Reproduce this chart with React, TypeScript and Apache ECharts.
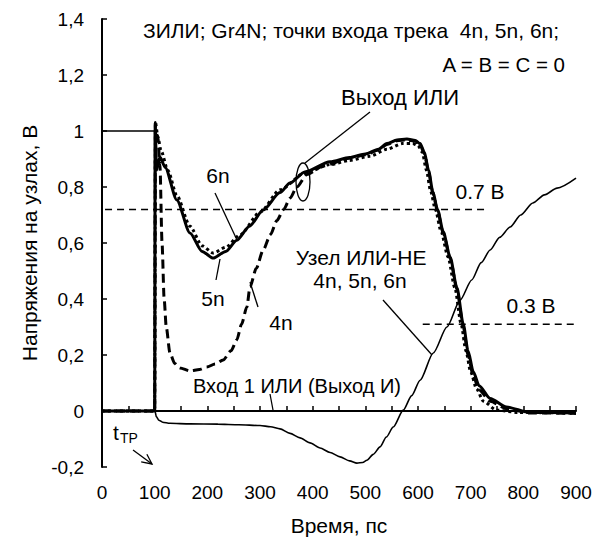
import React, { useEffect, useRef } from "react";
import * as echarts from "echarts";

// ---- Data (time in ps, voltage in V) ----
const norNode: [number, number][] = [
  [0, 1], [100, 1], [100.8, 0.0], [103, -0.02], [108, -0.033], [115, -0.04], [129, -0.044],
  [167, -0.046], [220, -0.047], [260, -0.049], [300, -0.052], [320, -0.056], [338, -0.064],
  [357, -0.08], [376, -0.096], [395, -0.114], [414, -0.132], [433, -0.148], [452, -0.164],
  [470, -0.178], [484, -0.186], [495, -0.184], [503, -0.176], [515, -0.155], [528, -0.128],
  [540, -0.093], [553, -0.057], [572, 0.003], [588, 0.055], [604, 0.11], [629, 0.207],
  [655, 0.3], [680, 0.396], [702, 0.468], [720, 0.53], [737, 0.575], [755, 0.62],
  [775, 0.657], [795, 0.7], [818, 0.743], [840, 0.772], [864, 0.796], [900, 0.832],
];

const out5n: [number, number][] = [
  [0, 0], [100, 0], [101, 1.03], [103.5, 0.86], [110, 0.907], [120, 0.87], [142, 0.754],
  [167, 0.636], [190, 0.57], [211, 0.546], [235, 0.57], [256, 0.61], [280, 0.66],
  [306, 0.718], [338, 0.78], [357, 0.814], [385, 0.854], [433, 0.89], [470, 0.905],
  [500, 0.918], [525, 0.935], [541, 0.955], [560, 0.968], [579, 0.971], [595, 0.966],
  [604, 0.955], [612, 0.925], [620, 0.86], [628, 0.785], [637, 0.72], [648, 0.64],
  [661, 0.55], [674, 0.44], [686, 0.31], [695, 0.215], [705, 0.14], [716, 0.09],
  [737, 0.045], [768, 0.014], [812, -0.005], [900, -0.007],
];

const out6n: [number, number][] = [
  [0, 0], [100, 0], [101.5, 1.03], [106, 0.98], [112, 0.93], [125, 0.86], [142, 0.77],
  [167, 0.66], [190, 0.59], [211, 0.564], [235, 0.585], [262, 0.629], [300, 0.71],
  [338, 0.79], [385, 0.85], [433, 0.88], [470, 0.895], [509, 0.91], [541, 0.935],
  [570, 0.955], [590, 0.955], [600, 0.948], [608, 0.925], [616, 0.86], [624, 0.785],
  [633, 0.72], [644, 0.64], [657, 0.55], [670, 0.44], [682, 0.31], [691, 0.215],
  [700, 0.14], [711, 0.08], [724, 0.035], [749, 0.003], [790, -0.005], [900, -0.008],
];

const out4n: [number, number][] = [
  [0, 0], [100, 0], [101.5, 1.0], [106, 0.98], [110, 0.88], [114, 0.6], [118, 0.4],
  [122, 0.3], [129, 0.207], [138, 0.17], [148, 0.154], [167, 0.143], [185, 0.148],
  [199, 0.157], [215, 0.168], [230, 0.182], [245, 0.215], [256, 0.254], [265, 0.31],
  [275, 0.371], [281, 0.443], [293, 0.51], [306, 0.575], [320, 0.63], [332, 0.68],
  [345, 0.72], [357, 0.76], [370, 0.8], [389, 0.845], [420, 0.875], [470, 0.903],
  [500, 0.915], [525, 0.932], [541, 0.952], [560, 0.965], [579, 0.968], [595, 0.963],
  [604, 0.95], [612, 0.92], [620, 0.855], [628, 0.78], [637, 0.715], [648, 0.635],
  [661, 0.545], [674, 0.435], [686, 0.3], [695, 0.2], [705, 0.125], [716, 0.075],
  [737, 0.035], [768, 0.008], [812, -0.007], [900, -0.008],
];

const input1: [number, number][] = [[0, 0], [900, 0]];
const level07: [number, number][] = [[-17, 0.72], [729, 0.72]];
const level03: [number, number][] = [[609, 0.31], [907, 0.31]];

const xTicks = { min: 0, max: 900, interval: 100 };
const yTicks = { min: -0.2, max: 1.4, interval: 0.2 };

const FONT = "Liberation Sans, Arial, sans-serif";

function fmtY(v: number): string {
  const r = Math.round(v * 10) / 10;
  return String(r).replace(".", ",");
}

export default function App() {
  const ref = useRef<HTMLDivElement>(null);
  useEffect(() => {
    if (!ref.current) return;
    const chart = echarts.init(ref.current, undefined, { renderer: "svg" });

    const txt = (x: number, y: number, s: string, size: number, align = "center") => ({
      type: "text",
      x,
      y,
      style: {
        text: s,
        fontSize: size,
        fontFamily: FONT,
        fill: "#000",
        align,
        verticalAlign: "middle",
      },
    });
    const ln = (x1: number, y1: number, x2: number, y2: number, w = 1.3) => ({
      type: "line",
      shape: { x1, y1, x2, y2 },
      style: { stroke: "#000", lineWidth: w },
    });

    // arrow for t_TP
    const ax1 = 133, ay1 = 450, ax2 = 152, ay2 = 464;
    const ang = Math.atan2(ay2 - ay1, ax2 - ax1);
    const hl = 11;
    const h1 = [ax2 - hl * Math.cos(ang - 0.45), ay2 - hl * Math.sin(ang - 0.45)];
    const h2 = [ax2 - hl * Math.cos(ang + 0.45), ay2 - hl * Math.sin(ang + 0.45)];

    const graphic: any[] = [
      txt(143, 30, "ЗИЛИ; Gr4N; точки входа трека  4n, 5n, 6n;", 21, "left"),
      txt(565, 64, "A = B = C = 0", 20.5, "right"),
      txt(400, 97, "Выход ИЛИ", 22),
      ln(370, 112, 305, 163),
      {
        type: "ellipse",
        shape: { cx: 303, cy: 182, rx: 7, ry: 19 },
        style: { stroke: "#000", fill: "none", lineWidth: 1.3 },
      },
      txt(218, 175, "6n", 21),
      ln(215, 193, 237, 240),
      txt(213, 298, "5n", 21),
      ln(220, 259, 216, 280),
      txt(281, 322, "4n", 21),
      ln(250, 282, 258, 307),
      txt(297, 386, "Вход 1 ИЛИ (Выход И)", 20),
      ln(270, 394, 273, 410),
      txt(361, 257, "Узел ИЛИ-НЕ", 21),
      txt(360, 280, "4n, 5n, 6n", 21),
      ln(383, 300, 432, 355),
      txt(480, 191, "0.7 В", 21),
      txt(531, 305, "0.3 В", 21),
      {
        type: "text",
        x: 113,
        y: 443,
        style: { text: "t", fontSize: 21, fontFamily: FONT, fill: "#000", align: "left", verticalAlign: "bottom" },
      },
      {
        type: "text",
        x: 120,
        y: 445,
        style: { text: "TP", fontSize: 14, fontFamily: FONT, fill: "#000", align: "left", verticalAlign: "bottom" },
      },
      ln(ax1, ay1, ax2, ay2),
      {
        type: "polyline",
        shape: { points: [h1, [ax2, ay2], h2] },
        style: { stroke: "#000", fill: "none", lineWidth: 1.3 },
      },
    ];

    const lineSeries = (data: [number, number][], width: number, type: any, z: number, extra: any = {}) => ({
      type: "line",
      data,
      symbol: "none",
      smooth: 0.25,
      smoothMonotone: "x",
      lineStyle: { color: "#000", width, type },
      z,
      silent: true,
      ...extra,
    });

    chart.setOption({
      animation: false,
      backgroundColor: "#fff",
      grid: { left: 102, right: 27, top: 19, bottom: 73, containLabel: false, outerBoundsMode: "none" },
      xAxis: {
        type: "value",
        min: xTicks.min,
        max: xTicks.max,
        interval: xTicks.interval,
        name: "Время, пс",
        nameLocation: "middle",
        nameGap: 48,
        nameTextStyle: { fontSize: 21, fontFamily: FONT, color: "#000" },
        axisLine: { lineStyle: { color: "#000", width: 2 } },
        axisTick: { inside: true, length: 5, lineStyle: { color: "#000", width: 1.5 } },
        minorTick: { show: true, splitNumber: 2, length: 5, lineStyle: { color: "#000", width: 1.5 } },
        axisLabel: { fontSize: 19, fontFamily: FONT, color: "#000", margin: 16 },
        splitLine: { show: false },
      },
      yAxis: {
        type: "value",
        min: yTicks.min,
        max: yTicks.max,
        interval: yTicks.interval,
        name: "Напряжения на узлах, В",
        nameLocation: "middle",
        nameGap: 62,
        nameRotate: 90,
        nameTextStyle: { fontSize: 21, fontFamily: FONT, color: "#000" },
        axisLine: { show: true, lineStyle: { color: "#000", width: 2 } },
        axisTick: { show: true, inside: true, length: 5, lineStyle: { color: "#000", width: 1.5 } },
        axisLabel: { fontSize: 19, fontFamily: FONT, color: "#000", margin: 18, formatter: fmtY },
        splitLine: { show: false },
      },
      series: [
        lineSeries(input1, 1.5, [14, 8], 2, { smooth: false }),
        lineSeries(level07, 1.5, [7, 5], 2, { smooth: false, clip: false }),
        lineSeries(level03, 1.5, [7, 5], 2, { smooth: false, clip: false }),
        lineSeries(norNode, 1.6, "solid", 3),
        lineSeries(out4n, 3, [9, 5], 4),
        lineSeries(out6n, 3, [3, 3], 5),
        lineSeries(out5n, 3, "solid", 6),
      ],
      graphic,
    });
    return () => chart.dispose();
  }, []);
  return (
    <div
      ref={ref}
      style={{ position: "fixed", left: 0, top: 0, width: 603, height: 540, background: "#fff" }}
    />
  );
}
